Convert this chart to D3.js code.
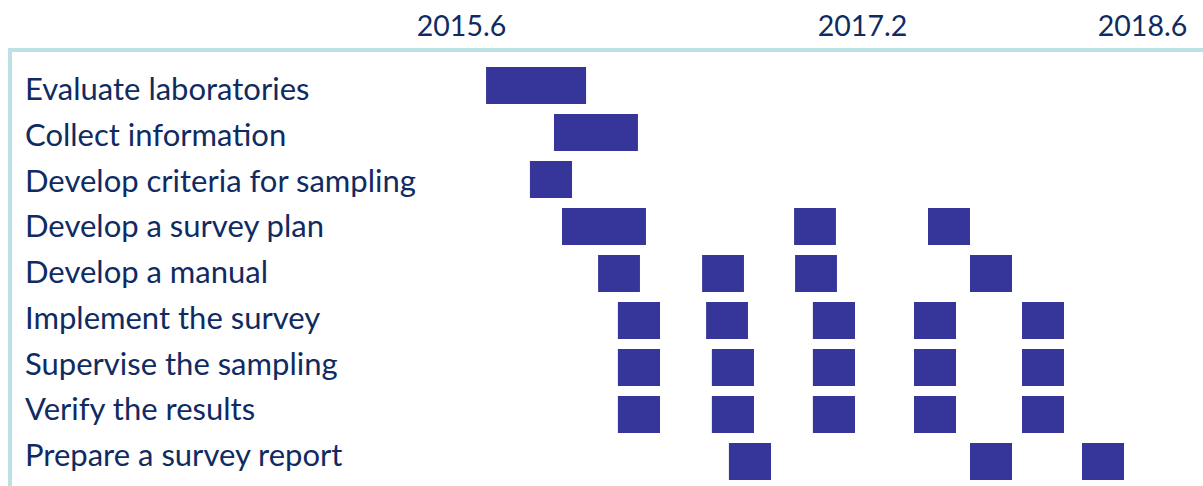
<!DOCTYPE html>
<html>
<head>
<meta charset="utf-8">
<script src="https://cdn.jsdelivr.net/npm/d3@7"></script>
<style>
  html, body { margin: 0; padding: 0; background: #ffffff; }
  svg { display: block; }
  text { font-family: "Lato", "Open Sans", sans-serif; fill: #0f2b62; }
</style>
</head>
<body>
<svg id="chart" width="1203" height="486"></svg>
<script>
// ---- data ----
const tasks = [
  "Evaluate laboratories",
  "Collect information",
  "Develop criteria for sampling",
  "Develop a survey plan",
  "Develop a manual",
  "Implement the survey",
  "Supervise the sampling",
  "Verify the results",
  "Prepare a survey report"
];
// tick labels shown on the top axis (decimal year.month)
const tickLabels = ["2015.6", "2017.2", "2018.6"];
const tickValues = [2015.6, 2017.2, 2018.6];
// start / end of each activity period, per task (decimal years)
const barStarts = [
  [2015.700],
  [2015.971],
  [2015.875],
  [2016.003, 2016.929, 2017.530],
  [2016.147, 2016.562, 2016.933, 2017.740],
  [2016.226, 2016.578, 2017.004, 2017.460, 2018.000],
  [2016.226, 2016.601, 2017.004, 2017.460, 2018.000],
  [2016.226, 2016.601, 2017.004, 2017.460, 2018.000],
  [2016.669, 2017.740, 2018.300]
];
const barEnds = [
  [2016.099],
  [2016.306],
  [2016.043],
  [2016.338, 2017.096, 2017.740],
  [2016.314, 2016.729, 2017.100, 2017.950],
  [2016.394, 2016.745, 2017.172, 2017.670, 2018.210],
  [2016.394, 2016.769, 2017.172, 2017.670, 2018.210],
  [2016.394, 2016.769, 2017.172, 2017.670, 2018.210],
  [2016.837, 2017.950, 2018.510]
];

const segments = [];
tasks.forEach((t, i) => {
  barStarts[i].forEach((s, j) => segments.push({ task: t, start: s, end: barEnds[i][j] }));
});

// ---- layout ----
const svg = d3.select("#chart");
const W = 1203, H = 486;
const barColor = "#35359a";
const frameColor = "#bde0e4";

// piecewise-linear time scale (axis labels are not evenly spaced in the source)
const x = d3.scaleLinear().domain(tickValues).range([461, 862, 1142]);
const y = d3.scaleBand().domain(tasks).range([67, 480]).paddingInner(0.213).paddingOuter(0);
const yLabel = d3.scalePoint().domain(tasks).range([100, 466]);

// frame: top and left lines
svg.append("rect").attr("x", 8).attr("y", 48).attr("width", W - 8).attr("height", 4).attr("fill", frameColor);
svg.append("rect").attr("x", 8).attr("y", 48).attr("width", 4).attr("height", H - 48).attr("fill", frameColor);

// top axis labels
const axis = d3.axisTop(x).tickValues(tickValues).tickSize(0)
  .tickFormat((d, i) => tickLabels[i]);
const gAxis = svg.append("g").attr("transform", "translate(0,36)").call(axis);
gAxis.select(".domain").remove();
gAxis.selectAll("text")
  .attr("y", 0).attr("dy", 0)
  .style("font-family", "Lato, 'Open Sans', sans-serif")
  .style("font-size", "28.5px")
  .attr("fill", "#0f2b62");

// task labels
svg.append("g").selectAll("text").data(tasks).join("text")
  .attr("x", 25)
  .attr("y", d => yLabel(d))
  .style("font-size", "31px")
  .text(d => d);

// bars
svg.append("g").selectAll("rect").data(segments).join("rect")
  .attr("x", d => x(d.start))
  .attr("y", d => y(d.task))
  .attr("width", d => x(d.end) - x(d.start))
  .attr("height", y.bandwidth())
  .attr("fill", barColor);
</script>
</body>
</html>
